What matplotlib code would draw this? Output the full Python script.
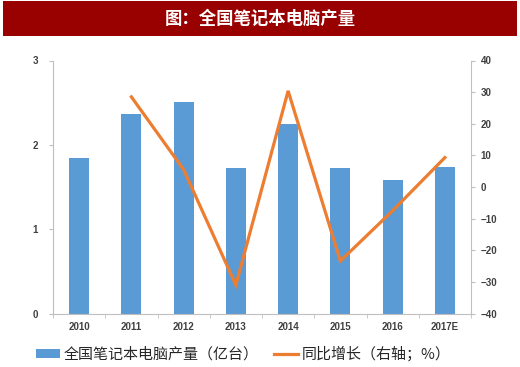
import matplotlib
matplotlib.use("Agg")
import matplotlib.pyplot as plt
from matplotlib.patches import Rectangle
from matplotlib.lines import Line2D

years = ["2010", "2011", "2012", "2013", "2014", "2015", "2016", "2017E"]
production = [1.84, 2.37, 2.51, 1.73, 2.25, 1.73, 1.58, 1.74]
growth_years = ["2011", "2012", "2013", "2014", "2015", "2016", "2017E"]
growth = [28.5, 5.5, -31.0, 30.4, -23.4, -7.5, 9.3]

title = "图：全国笔记本电脑产量"
bar_label = "全国笔记本电脑产量（亿台）"
line_label = "同比增长（右轴；%）"

plt.rcParams['font.family'] = ['Noto Sans CJK SC', 'DejaVu Sans']

fig = plt.figure(figsize=(5.2, 3.67), dpi=100)
fig.patch.set_facecolor('white')

# Title banner
fig.patches.append(Rectangle((3/520, 1 - 36/367), 514/520, 35/367,
                             transform=fig.transFigure, facecolor='#990000',
                             edgecolor='none', zorder=0))
fig.text(0.5, 1 - 18.5/367, title, color='white', fontsize=12.5, fontweight='bold',
         ha='center', va='center')

ax = fig.add_axes([53/520, 53.5/367, 418/520, 253/367])
x = list(range(len(years)))
ax.bar(x, production, width=0.38, color='#5b9bd5', zorder=2)
ax.set_xlim(-0.5, len(years) - 0.5)
ax.set_ylim(0, 3)
ax.set_yticks([0, 1, 2, 3])
ax.set_xticks(x)
ax.set_xticklabels(years)
ax.set_xticks([i + 0.5 for i in range(-1, len(years))], minor=True)

ax2 = ax.twinx()
gx = [years.index(y) for y in growth_years]
ax2.plot(gx, growth, color='#ed7d31', linewidth=2.3, zorder=3,
         solid_joinstyle='miter')
ax2.set_ylim(-40, 40)
ax2.set_yticks(range(-40, 41, 10))
ax2.set_yticklabels([str(v).replace('-', '\u2212') for v in range(-40, 41, 10)])

spine_color = '#bfbfbf'
for a in (ax, ax2):
    for s in a.spines.values():
        s.set_visible(False)
ax.spines['left'].set_visible(True)
ax.spines['left'].set_color(spine_color)
ax.spines['bottom'].set_visible(True)
ax.spines['bottom'].set_color(spine_color)
ax2.spines['right'].set_visible(True)
ax2.spines['right'].set_color(spine_color)

tick_font = dict(family=['Liberation Sans', 'DejaVu Sans'], size=7, weight='bold')
ax.tick_params(axis='x', which='major', length=0, pad=6, labelcolor='#404040')
ax.tick_params(axis='x', which='minor', length=3, color=spine_color, direction='out')
ax.tick_params(axis='y', length=3, color=spine_color, direction='out', pad=8,
               labelcolor='#404040')
ax2.tick_params(axis='y', length=3, color=spine_color, direction='out', pad=4,
                labelcolor='#404040')
for lab in ax.get_xticklabels() + ax.get_yticklabels() + ax2.get_yticklabels():
    lab.set_fontfamily(tick_font['family'])
    lab.set_fontsize(tick_font['size'])
    lab.set_fontweight(tick_font['weight'])

handles = [Rectangle((0, 0), 1, 1, facecolor='#5b9bd5', edgecolor='none'),
           Line2D([0], [0], color='#ed7d31', linewidth=2.3)]
fig.legend(handles, [bar_label, line_label], loc='center', ncol=2,
           bbox_to_anchor=(243/520, 1 - 354/367), frameon=False,
           prop={'family': ['Noto Sans CJK SC', 'DejaVu Sans'], 'size': 10.8},
           labelcolor='#262626', handlelength=1.6, handleheight=0.5,
           handletextpad=0.25, columnspacing=1.0)

fig.savefig('out.png', dpi=100, facecolor='white')
